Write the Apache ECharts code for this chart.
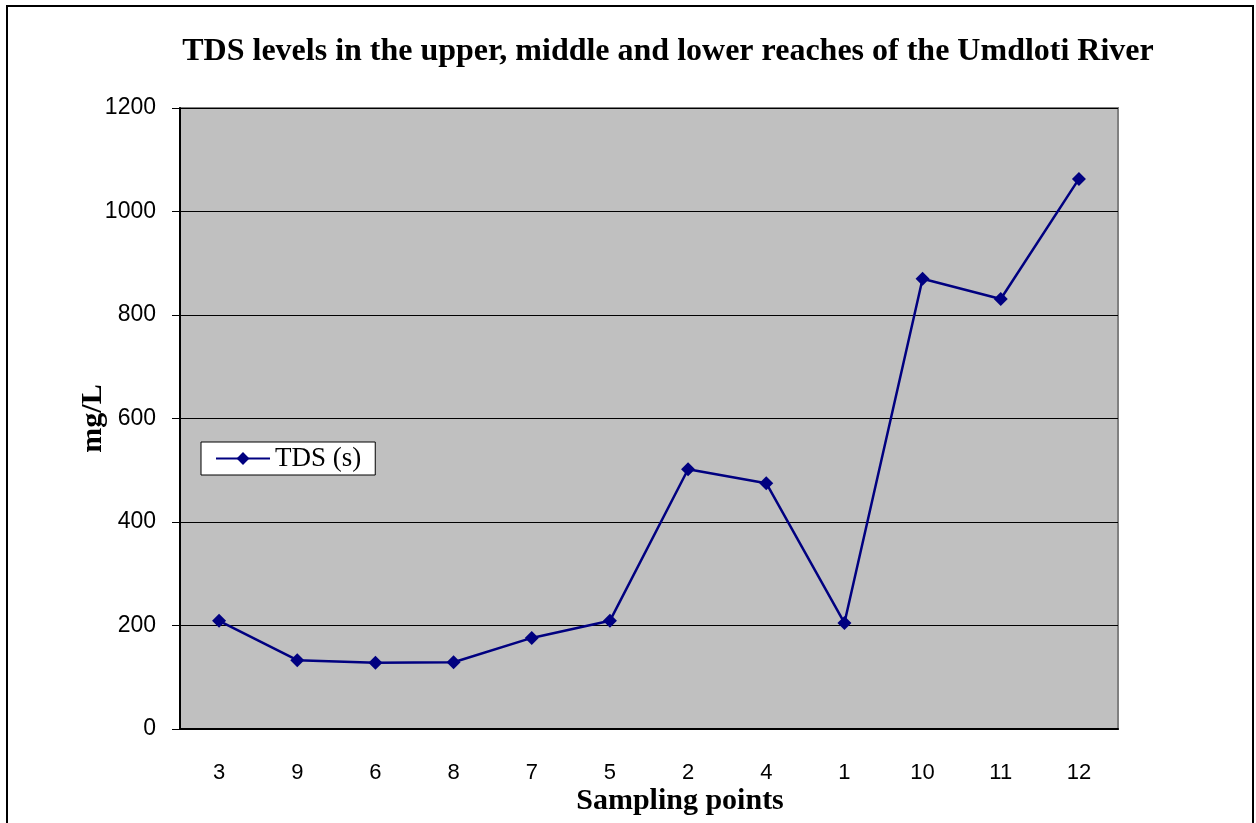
<!DOCTYPE html>
<html>
<head>
<meta charset="utf-8">
<script src="https://cdn.jsdelivr.net/npm/echarts@6/dist/echarts.min.js"></script>
<style>
  html, body { margin: 0; padding: 0; background: #fff; }
  #chart { width: 1256px; height: 823px; }
</style>
</head>
<body>
<div id="chart"></div>
<script>
// sampling points in river order (upper -> lower reaches)
const categories = ["3", "9", "6", "8", "7", "5", "2", "4", "1", "10", "11", "12"];
const tdsValues = [209, 133, 128, 129, 176, 209, 502, 475, 205, 870, 831, 1063];
const yTicks = [0, 200, 400, 600, 800, 1000, 1200];

const serif = "'Liberation Serif', 'Times New Roman', serif";
const sans = "'Liberation Sans', Arial, sans-serif";

const chart = echarts.init(document.getElementById("chart"));

chart.setOption({
  animation: false,
  backgroundColor: "#fff",
  title: {
    text: "TDS levels in the upper, middle and lower reaches of the Umdloti River",
    left: 663,
    top: 31,
    textAlign: "center",
    textStyle: { fontFamily: serif, fontWeight: "bold", fontSize: 32, color: "#000" }
  },
  graphic: [
    {
      type: "rect",
      shape: { x: 7, y: 6, width: 1246, height: 840 },
      style: { fill: null, stroke: "#000", lineWidth: 2 },
      silent: true
    }
  ],
  legend: {
    left: 201,
    top: 442,
    orient: "vertical",
    backgroundColor: "#fff",
    borderColor: "#000",
    borderWidth: 1,
    borderRadius: 0,
    padding: [3, 14, 3, 14],
    itemWidth: 54,
    itemHeight: 16,
    textStyle: { fontFamily: serif, fontSize: 27, color: "#000" },
    data: ["TDS (s)"]
  },
  grid: {
    left: 180,
    top: 108,
    right: 138,
    bottom: 94,
    show: true,
    backgroundColor: "#c0c0c0",
    borderColor: "#808080",
    borderWidth: 2
  },
  xAxis: {
    type: "category",
    data: categories,
    boundaryGap: true,
    name: "Sampling points",
    nameLocation: "middle",
    nameGap: 57,
    nameMoveOverlap: false,
    nameTextStyle: { fontFamily: serif, fontWeight: "bold", fontSize: 30, color: "#000", padding: [0, 0, 0, 62] },
    axisLine: { lineStyle: { color: "#000", width: 2 } },
    axisTick: { length: 8, lineStyle: { color: "#000", width: 1 } },
    axisLabel: { fontFamily: sans, fontSize: 22, color: "#000", margin: 33 },
    splitLine: { show: false }
  },
  yAxis: {
    type: "value",
    min: yTicks[0],
    max: yTicks[yTicks.length - 1],
    interval: 200,
    name: "mg/L",
    nameLocation: "middle",
    nameGap: 72,
    nameMoveOverlap: false,
    nameTextStyle: { fontFamily: serif, fontWeight: "bold", fontSize: 30, color: "#000" },
    axisLine: { show: true, lineStyle: { color: "#000", width: 2 } },
    axisTick: { show: true, length: 8, lineStyle: { color: "#000", width: 1 } },
    axisLabel: {
      fontFamily: sans, fontSize: 23, color: "#000", margin: 24,
      formatter: (v) => String(v)
    },
    splitLine: { lineStyle: { color: "#000", width: 1 } }
  },
  series: [
    {
      name: "TDS (s)",
      type: "line",
      data: tdsValues,
      symbol: "diamond",
      symbolSize: 14,
      lineStyle: { color: "#000080", width: 2.5 },
      itemStyle: { color: "#000080" }
    }
  ]
});
</script>
</body>
</html>
